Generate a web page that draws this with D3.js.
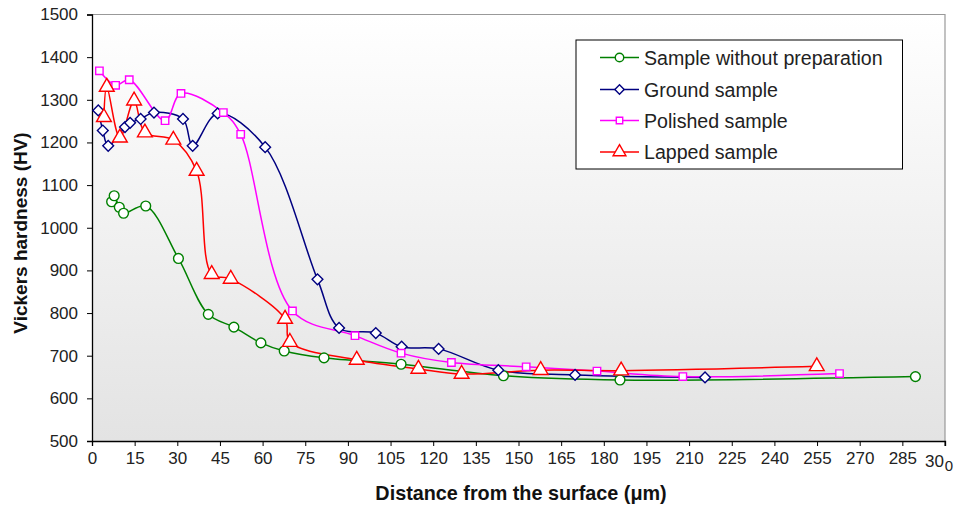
<!DOCTYPE html>
<html><head><meta charset="utf-8">
<script src="https://cdn.jsdelivr.net/npm/d3@7"></script>
<style>
body{margin:0;background:#fff;}
svg{display:block;font-family:"Liberation Sans",Arial,sans-serif;}
</style></head>
<body><svg id="chart" width="959" height="506"></svg>
<script>
const xTicks = [0,15,30,45,60,75,90,105,120,135,150,165,180,195,210,225,240,255,270,285];
const yTicks = [500,600,700,800,900,1000,1100,1200,1300,1400,1500];
const seriesNames = ["Sample without preparation","Ground sample","Polished sample","Lapped sample"];
const withoutPrep = [[6.9,1061],[7.8,1075],[9.6,1048],[11.1,1034],[18.9,1051],[30.4,928],[40.9,797],[49.9,767],[59.4,730],[67.6,711],[81.6,695],[108.7,680],[144.7,653],[185.7,643],[289.6,651]];
const ground = [[2.2,1275],[3.8,1228],[5.7,1192],[11.6,1236],[13.4,1246],[17.1,1255],[21.8,1270],[32.0,1255],[35.4,1192],[44.2,1268],[60.9,1189],[79.3,879],[86.9,765],[99.8,753],[108.9,721],[121.9,716],[142.9,666],[169.9,655],[215.6,649]];
const polished = [[2.6,1368],[8.3,1334],[13.1,1347],[25.7,1251],[31.3,1315],[46.2,1270],[52.3,1219],[70.5,805],[92.5,747],[108.7,706],[126.4,684],[152.7,674],[177.6,664],[207.8,651],[262.9,658]];
const lapped = [[4.2,1259],[5.2,1330],[9.8,1211],[14.8,1298],[18.6,1223],[28.6,1206],[36.8,1133],[42.1,891],[48.8,880],[67.9,786],[69.6,732],[93.1,690],[114.8,669],[130.0,657],[157.8,666],[186.1,665],[254.9,675]];

const svg = d3.select("#chart");
const L=92, R=945, T=14.5, B=441;
const x = d3.scaleLinear().domain([0,300]).range([L,R]);
const y = d3.scaleLinear().domain([500,1500]).range([B,T]);
const FONT = "Liberation Sans, Arial, sans-serif";

const defs = svg.append("defs");
const grad = defs.append("linearGradient").attr("id","bg").attr("x1",0).attr("y1",0).attr("x2",0).attr("y2",1);
grad.append("stop").attr("offset","0%").attr("stop-color","#ffffff");
grad.append("stop").attr("offset","100%").attr("stop-color","#e3e3e3");
svg.append("rect").attr("x",L).attr("y",T).attr("width",R-L).attr("height",B-T).attr("fill","url(#bg)");
svg.append("path").attr("d",`M${L},${T}H${R}V${B}`).attr("fill","none").attr("stroke","#999").attr("stroke-width",1.2);

// axes
const xAxis = d3.axisBottom(x).tickValues(xTicks).tickSize(5).tickPadding(6).tickFormat(d3.format("d"));
const gx = svg.append("g").attr("transform",`translate(0,${B})`).call(xAxis);
gx.selectAll("text").attr("font-size",17).attr("fill","#222").attr("font-family",FONT);
// the last, clipped "300" label
gx.append("g").attr("transform",`translate(${x(300)},0)`).call(g=>{
  g.append("line").attr("y2",5).attr("stroke","#000");
  g.append("text").attr("x",-1).attr("y",25.5).attr("text-anchor","end").attr("font-size",17).attr("fill","#222").attr("font-family",FONT).text("30");
  g.append("text").attr("x",4).attr("y",30).attr("font-size",15).attr("fill","#222").attr("font-family",FONT).text("0");
});
const yAxis = d3.axisLeft(y).tickValues(yTicks).tickSize(5).tickPadding(9).tickFormat(d3.format("d"));
const gy = svg.append("g").attr("transform",`translate(${L},0)`).call(yAxis);
gy.selectAll("text").attr("font-size",17).attr("fill","#222").attr("font-family",FONT);
[gx,gy].forEach(g=>{g.select(".domain").attr("stroke","#000").attr("stroke-width",1.3);g.selectAll(".tick line").attr("stroke","#000");});

// axis titles
svg.append("text").attr("transform","translate(27,233) rotate(-90)").attr("text-anchor","middle")
  .attr("font-size",19).attr("font-weight","bold").attr("fill","#111").text("Vickers hardness (HV)");
svg.append("text").attr("x",521).attr("y",500).attr("text-anchor","middle")
  .attr("font-size",19.8).attr("font-weight","bold").attr("fill","#111").text("Distance from the surface (μm)");

const colors = ["#008000","#000080","#ff00ff","#ff0000"];
const shapes = [d3.symbolCircle,d3.symbolSquare,d3.symbolSquare,d3.symbolTriangle];
const rot = [0,45,0,0];
const sizes = [75,58,55,95];
const data = [withoutPrep,ground,polished,lapped];
const line = d3.line().x(d=>x(d[0])).y(d=>y(d[1])).curve(d3.curveCatmullRom.alpha(0.5));

data.forEach((ser,i)=>{
  svg.append("path").datum(ser).attr("d",line).attr("fill","none").attr("stroke",colors[i]).attr("stroke-width",1.5);
});
data.forEach((ser,i)=>{
  svg.append("g").selectAll("path").data(ser).join("path")
    .attr("transform",d=>`translate(${x(d[0])},${y(d[1])}) rotate(${rot[i]})`)
    .attr("d",d3.symbol().type(shapes[i]).size(sizes[i]))
    .attr("fill","#fff").attr("stroke",colors[i]).attr("stroke-width",1.4);
});

// legend
const lg = svg.append("g");
lg.append("rect").attr("x",576).attr("y",40).attr("width",326.5).attr("height",129).attr("fill","#fff").attr("stroke","#000").attr("stroke-width",1);
const rowsY = [57.5,89.5,120.5,152];
seriesNames.forEach((n,i)=>{
  const g = lg.append("g").attr("transform",`translate(0,${rowsY[i]})`);
  g.append("line").attr("x1",600).attr("x2",639).attr("stroke",colors[i]).attr("stroke-width",1.5);
  g.append("path").attr("transform",`translate(619.5,0) rotate(${rot[i]})`).attr("d",d3.symbol().type(shapes[i]).size(sizes[i]*0.75))
    .attr("fill","#fff").attr("stroke",colors[i]).attr("stroke-width",1.4);
  g.append("text").attr("x",644).attr("y",7).attr("font-size",19.6).attr("fill","#222").attr("font-family",FONT).text(n);
});
</script></body></html>
